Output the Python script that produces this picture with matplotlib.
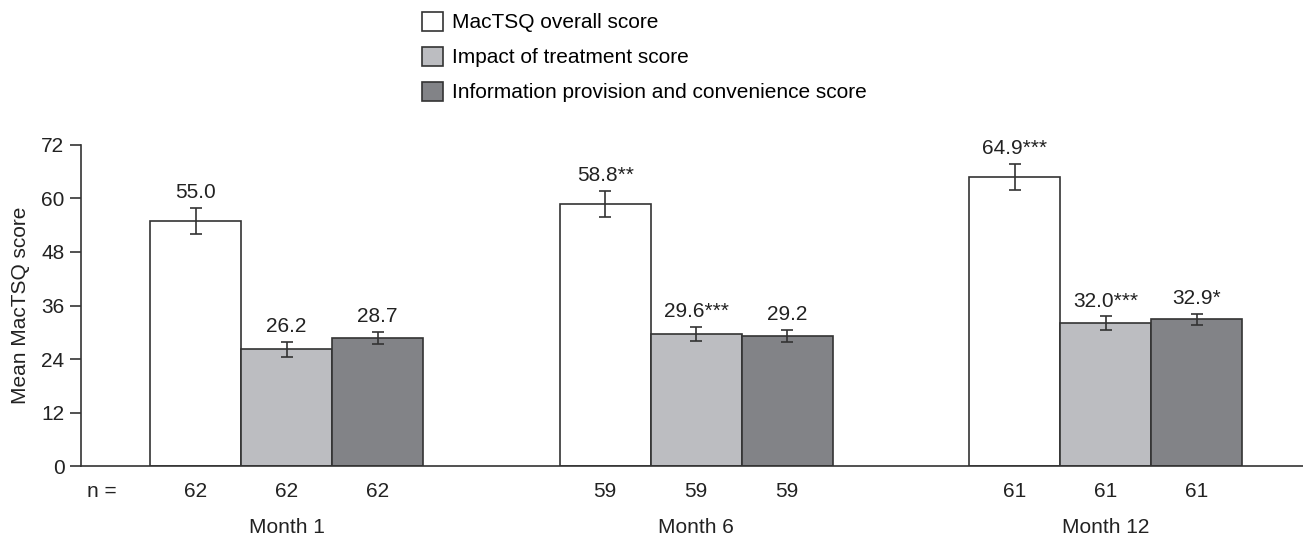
import matplotlib
matplotlib.use("Agg")
import matplotlib.pyplot as plt
from matplotlib.patches import Patch
import numpy as np

plt.rcParams["font.family"] = ["Liberation Sans", "DejaVu Sans"]
plt.rcParams["font.size"] = 15

months = ["Month 1", "Month 6", "Month 12"]
series = ["MacTSQ overall score", "Impact of treatment score",
          "Information provision and convenience score"]
overall = [55.0, 58.8, 64.9]
impact = [26.2, 29.6, 32.0]
info = [28.7, 29.2, 32.9]
overall_err = [2.9, 2.9, 2.9]
impact_err = [1.7, 1.6, 1.6]
info_err = [1.4, 1.4, 1.3]
overall_sig = ["", "**", "***"]
impact_sig = ["", "***", "***"]
info_sig = ["", "", "*"]
n_obs = [62, 59, 61]

COLS = ["white", "#bcbdc1", "#828387"]
EDGE = "#333333"
TXT = "#222222"

fig = plt.figure(figsize=(13.03, 5.38), dpi=100)
ax = fig.add_axes([0.0622, 0.1338, 0.9378, 0.5967])

centers = np.arange(len(months)) * 4.5
w = 1.0
data = [(overall, overall_err, overall_sig),
        (impact, impact_err, impact_sig),
        (info, info_err, info_sig)]
for k, (vals, errs, sigs) in enumerate(data):
    xs = centers + (k - 1) * w
    ax.bar(xs, vals, w, color=COLS[k], edgecolor=EDGE, linewidth=1.2, zorder=2)
    ax.errorbar(xs, vals, yerr=errs, fmt="none", ecolor=EDGE, elinewidth=1.2,
                capsize=4.5, capthick=1.2, zorder=3)
    for x, v, e, s, n in zip(xs, vals, errs, sigs, n_obs):
        ax.annotate(f"{v:.1f}{s}", (x, v + e), textcoords="offset points",
                    xytext=(0, 4), ha="center", va="bottom", color=TXT)
        ax.text(x, -0.08, str(n), transform=ax.get_xaxis_transform(),
                ha="center", va="center", color=TXT)

ax.text(-2.19, -0.08, "n =", transform=ax.get_xaxis_transform(),
        ha="left", va="center", color=TXT)
for c, m in zip(centers, months):
    ax.text(c, -0.19, m, transform=ax.get_xaxis_transform(),
            ha="center", va="center", color=TXT)

ax.set_xlim(-2.26, 11.17)
ax.set_ylim(0, 72)
ax.set_yticks(np.arange(0, 73, 12))
ax.set_xticks([])
ax.tick_params(axis="y", length=8, width=1.2, color=EDGE, pad=4, labelcolor=TXT)
ax.spines[["top", "right"]].set_visible(False)
for sp in ["left", "bottom"]:
    ax.spines[sp].set_color(EDGE)
    ax.spines[sp].set_linewidth(1.2)
ax.set_ylabel("Mean MacTSQ score", color=TXT, labelpad=8)

handles = [Patch(facecolor=c, edgecolor=EDGE, linewidth=1.2) for c in COLS]
fig.legend(handles, series, loc="upper left", bbox_to_anchor=(0.312, 1.007),
           frameon=False, handlelength=1.0, handleheight=1.0, handletextpad=0.45,
           labelspacing=0.7, borderaxespad=0.35)

fig.savefig("out.png", dpi=100, facecolor="white")
